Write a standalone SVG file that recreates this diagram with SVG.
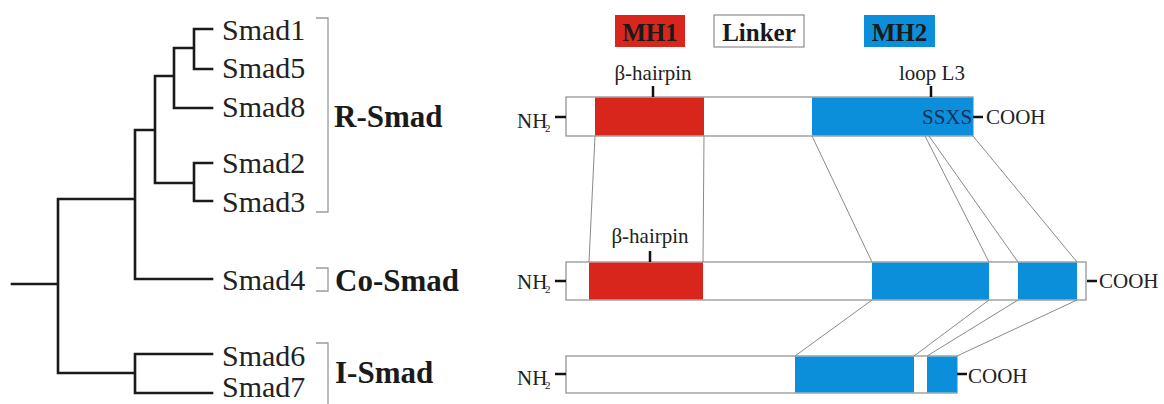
<svg xmlns="http://www.w3.org/2000/svg" width="1164" height="404" viewBox="0 0 1164 404">
<style>
.tree{fill:none;stroke:#1a1a1a;stroke-width:2.6;stroke-linecap:square}
.br{fill:none;stroke:#9a9a9a;stroke-width:1.3}
.leaf{font-family:"Liberation Serif",serif;font-size:30px;fill:#222}
.grp{font-family:"Liberation Serif",serif;font-size:31px;font-weight:bold;fill:#1a1a1a}
.leg{font-family:"Liberation Serif",serif;font-size:25px;font-weight:bold;fill:#1a1a1a;text-anchor:middle}
.sm{font-family:"Liberation Serif",serif;font-size:21px;fill:#222}
.sub{font-family:"Liberation Serif",serif;font-size:11px;fill:#222}
.box{fill:#fff;stroke:#8c8c8c;stroke-width:1.2}
.mh1{fill:#d8261c}
.mh2{fill:#0b8fdb}
.conn{fill:none;stroke:#8a8a8a;stroke-width:1}
.tick{stroke:#111;stroke-width:2.5}
</style>
<g id="tree">
<path class="tree" d="M194,29 H212 M194,69 H212 M194,29 V69 M174,48 H194 M174,108 H212 M174,48 V108 M155,76 H174 M194,163 H212 M194,201 H212 M194,163 V201 M155,183 H194 M155,76 V183 M135,130 H155 M135,130 V279 H212 M58,199 H135 M58,199 V373 M135,354 H212 M135,393 H212 M135,354 V393 M58,373 H135 M12,284 H58"/>
</g>
<g id="labels">
<text class="leaf" x="222" y="40">Smad1</text>
<text class="leaf" x="222" y="78">Smad5</text>
<text class="leaf" x="222" y="117">Smad8</text>
<text class="leaf" x="222" y="173">Smad2</text>
<text class="leaf" x="222" y="212">Smad3</text>
<text class="leaf" x="222" y="290">Smad4</text>
<text class="leaf" x="222" y="366">Smad6</text>
<text class="leaf" x="222" y="397">Smad7</text>
</g>
<g id="r-smad">
<path class="br" d="M316,18 H328 V212 H316"/>
<text class="grp" x="334" y="127">R-Smad</text>
</g>
<g id="co-smad">
<path class="br" d="M316,268 H328 V291 H316"/>
<text class="grp" x="335" y="291">Co-Smad</text>
</g>
<g id="i-smad">
<path class="br" d="M316,343 H328 V410"/>
<text class="grp" x="335" y="383">I-Smad</text>
</g>
<g id="legend">
<rect class="mh1" x="615" y="15" width="70" height="32"/>
<text class="leg" x="650" y="41">MH1</text>
<rect class="box" x="714" y="15" width="90" height="32"/>
<text class="leg" x="759" y="41">Linker</text>
<rect class="mh2" x="864" y="15" width="71" height="32"/>
<text class="leg" x="899.5" y="41">MH2</text>
</g>
<g id="connectors">
<path class="conn" d="M595,136 L589,262 M704,136 L703,262 M812,136 L872,262 M925,136 L989,262 M929,136 L1018,262 M973,136 L1077,262"/>
<path class="conn" d="M872,300 L795,356 M989,300 L914,356 M1018,300 L927,356 M1077,300 L957,356"/>
</g>
<g id="rsmad-protein">
<rect class="box" x="566" y="97" width="407" height="39"/>
<rect class="mh1" x="595" y="97.6" width="109" height="37.8"/>
<rect class="mh2" x="812" y="97.6" width="161" height="37.8"/>
<text class="sm" x="517" y="128">NH</text><text class="sub" x="545" y="132">2</text>
<line class="tick" x1="555" y1="117" x2="566" y2="117"/>
<text class="sm" x="653" y="80" text-anchor="middle">β-hairpin</text>
<line class="tick" x1="653" y1="86" x2="653" y2="97"/>
<text class="sm" x="932" y="80" text-anchor="middle">loop L3</text>
<line class="tick" x1="931" y1="86" x2="931" y2="97"/>
<text class="sm" x="922" y="124" style="fill:#16305a">SSXS</text>
<line class="tick" x1="973" y1="117" x2="983" y2="117"/>
<text class="sm" x="986" y="124">COOH</text>
</g>
<g id="cosmad-protein">
<rect class="box" x="566" y="262" width="520" height="38"/>
<rect class="mh1" x="589" y="262.6" width="114" height="36.8"/>
<rect class="mh2" x="872" y="262.6" width="117" height="36.8"/>
<rect class="mh2" x="1018" y="262.6" width="59" height="36.8"/>
<text class="sm" x="517" y="289">NH</text><text class="sub" x="545" y="293">2</text>
<line class="tick" x1="555" y1="281" x2="566" y2="281"/>
<text class="sm" x="650" y="243" text-anchor="middle">β-hairpin</text>
<line class="tick" x1="650" y1="251" x2="650" y2="262"/>
<line class="tick" x1="1087" y1="281" x2="1097" y2="281"/>
<text class="sm" x="1099" y="288">COOH</text>
</g>
<g id="ismad-protein">
<rect class="box" x="566" y="356" width="391" height="37"/>
<rect class="mh2" x="795" y="356.6" width="119" height="35.8"/>
<rect class="mh2" x="927" y="356.6" width="30" height="35.8"/>
<text class="sm" x="517" y="385">NH</text><text class="sub" x="545" y="389">2</text>
<line class="tick" x1="555" y1="374" x2="566" y2="374"/>
<line class="tick" x1="957" y1="374" x2="967" y2="374"/>
<text class="sm" x="968" y="383">COOH</text>
</g>
</svg>
